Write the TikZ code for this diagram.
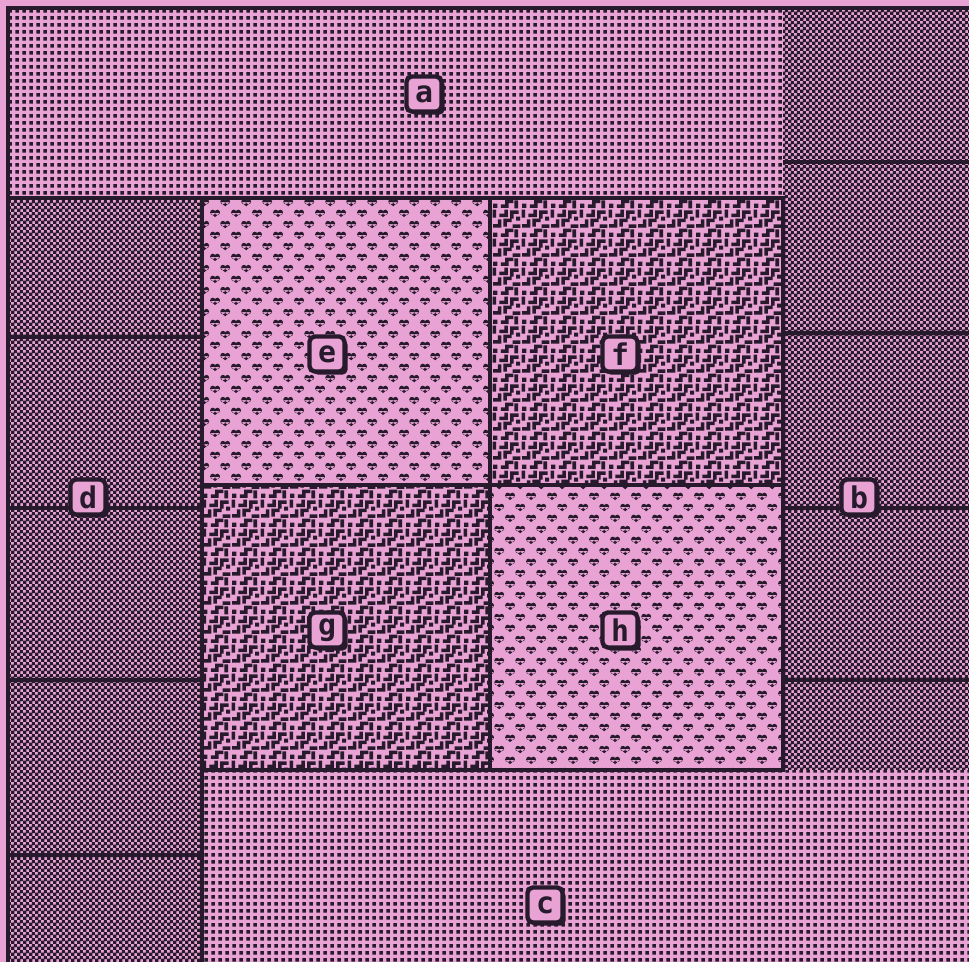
\documentclass[tikz,border=0pt]{standalone}
\usepackage{fontspec}
\setmonofont{DejaVu Sans Mono}
\usepackage{xcolor}
\usetikzlibrary{patterns,shadows}

\definecolor{rose}{HTML}{E8A2D4}
\definecolor{ink}{HTML}{261A2C}

% dotted grid (a, c)
\pgfdeclarepatternformonly{pixdots}{\pgfpointorigin}{\pgfpoint{4pt}{4pt}}{\pgfpoint{4pt}{4pt}}{%
  \pgfpathrectangle{\pgfpoint{0.85pt}{0.85pt}}{\pgfpoint{2.3pt}{2.3pt}}\pgfusepath{fill}}
% checkerboard (b, d)
\pgfdeclarepatternformonly{pixcheck}{\pgfpointorigin}{\pgfpoint{3.4pt}{3.4pt}}{\pgfpoint{3.4pt}{3.4pt}}{%
  \pgfpathrectangle{\pgfpointorigin}{\pgfpoint{1.9pt}{1.9pt}}
  \pgfpathrectangle{\pgfpoint{1.7pt}{1.7pt}}{\pgfpoint{1.7pt}{1.7pt}}\pgfusepath{fill}}
% hearts (e, h)
\newcommand{\pixheart}[2]{%
  \pgfpathcircle{\pgfpoint{#1pt-1.35pt}{#2pt+0.7pt}}{1.55pt}
  \pgfpathcircle{\pgfpoint{#1pt+1.35pt}{#2pt+0.7pt}}{1.55pt}
  \pgfpathmoveto{\pgfpoint{#1pt-2.9pt}{#2pt+0.45pt}}
  \pgfpathlineto{\pgfpoint{#1pt+2.9pt}{#2pt+0.45pt}}
  \pgfpathlineto{\pgfpoint{#1pt}{#2pt-2pt}}
  \pgfpathclose}
\pgfdeclarepatternformonly{pixhearts}{\pgfpointorigin}{\pgfpoint{12pt}{12.4pt}}{\pgfpoint{12pt}{12.4pt}}{%
  \pixheart{3}{3.1}\pixheart{9}{9.3}\pgfusepath{fill}}
% squiggles (f, g)
\pgfdeclarepatternformonly{pixworms}{\pgfpointorigin}{\pgfpoint{16.5pt}{16.5pt}}{\pgfpoint{16.5pt}{16.5pt}}{%
  \pgfsetlinewidth{2pt}\pgfsetrectcap
  \pgfpathrectangle{\pgfpoint{0.6pt}{0.6pt}}{\pgfpoint{2.4pt}{2.4pt}}\pgfusepath{fill}
  \pgfpathrectangle{\pgfpoint{13.8pt}{9.9pt}}{\pgfpoint{2.2pt}{2.2pt}}\pgfusepath{fill}
  \pgfpathmoveto{\pgfpoint{6pt}{1.65pt}}\pgfpathlineto{\pgfpoint{8.4pt}{1.65pt}}
  \pgfpathlineto{\pgfpoint{8.4pt}{4.35pt}}\pgfpathlineto{\pgfpoint{11.1pt}{4.35pt}}
  \pgfpathmoveto{\pgfpoint{13.8pt}{1.35pt}}\pgfpathlineto{\pgfpoint{13.8pt}{3.9pt}}
  \pgfpathmoveto{\pgfpoint{1.65pt}{6.9pt}}\pgfpathlineto{\pgfpoint{4.35pt}{6.9pt}}
  \pgfpathlineto{\pgfpoint{4.35pt}{9.6pt}}
  \pgfpathmoveto{\pgfpoint{7.5pt}{7.5pt}}\pgfpathlineto{\pgfpoint{7.5pt}{10.05pt}}
  \pgfpathlineto{\pgfpoint{10.2pt}{10.05pt}}
  \pgfpathmoveto{\pgfpoint{12.75pt}{6.75pt}}\pgfpathlineto{\pgfpoint{15.15pt}{6.75pt}}
  \pgfpathmoveto{\pgfpoint{1.35pt}{12.6pt}}\pgfpathlineto{\pgfpoint{1.35pt}{15.15pt}}
  \pgfpathmoveto{\pgfpoint{5.25pt}{12.9pt}}\pgfpathlineto{\pgfpoint{8.1pt}{12.9pt}}
  \pgfpathlineto{\pgfpoint{8.1pt}{15.15pt}}
  \pgfpathmoveto{\pgfpoint{11.25pt}{12pt}}\pgfpathlineto{\pgfpoint{11.25pt}{14.7pt}}
  \pgfpathlineto{\pgfpoint{14.1pt}{14.7pt}}
  \pgfusepath{stroke}}

\tikzset{
  region/.style={fill=rose,postaction={pattern=#1,pattern color=ink}},
  edge/.style={draw=ink,line width=1.9pt},
  lab/.style={draw=ink,line width=2.5pt,fill=rose,rounded corners=3pt,
              minimum size=0.7cm,inner sep=0pt,
              font=\ttfamily\bfseries\fontsize{17}{17}\selectfont,text=ink,
              drop shadow={shadow xshift=1.8pt,shadow yshift=-1.8pt,fill=ink,opacity=1}}
}

\begin{document}
\begin{tikzpicture}[x=0.02cm,y=-0.02cm]
  \fill[rose] (0,0) rectangle (969,962);
  \useasboundingbox (0,0) rectangle (969,962);

  % outer pinwheel
  \fill[region=pixdots] (8,8) rectangle (783,198);
  \fill[region=pixcheck] (783,8) rectangle (975,770);
  \fill[region=pixdots] (202,770) rectangle (975,968);
  \fill[region=pixcheck] (8,198) rectangle (202,968);
  % inner square
  \fill[region=pixhearts] (202,198) rectangle (490,485);
  \fill[region=pixworms] (490,198) rectangle (783,485);
  \fill[region=pixworms] (202,485) rectangle (490,770);
  \fill[region=pixhearts] (490,485) rectangle (783,770);

  % borders
  \draw[edge] (8,968) -- (8,8) -- (975,8);
  \draw[edge] (8,198) -- (783,198) -- (783,770) -- (202,770);
  \draw[edge] (202,198) -- (202,968);
  \draw[edge] (490,198) -- (490,770);
  \draw[edge] (202,485) -- (783,485);
  \foreach \yy in {162,333,508,680} \draw[edge] (783,\yy) -- (975,\yy);
  \foreach \yy in {337,508,680,855} \draw[edge] (8,\yy) -- (202,\yy);

  % labels
  \node[lab] (la) at (424,94) {a};
  \node[lab] (lb) at (859,497) {b};
  \node[lab] (lc) at (545,905) {c};
  \node[lab] (ld) at (88,497) {d};
  \node[lab] (le) at (327,354) {e};
  \node[lab] (lf) at (620,354) {f};
  \node[lab] (lg) at (327,630) {g};
  \node[lab] (lh) at (620,630) {h};
\end{tikzpicture}
\end{document}
